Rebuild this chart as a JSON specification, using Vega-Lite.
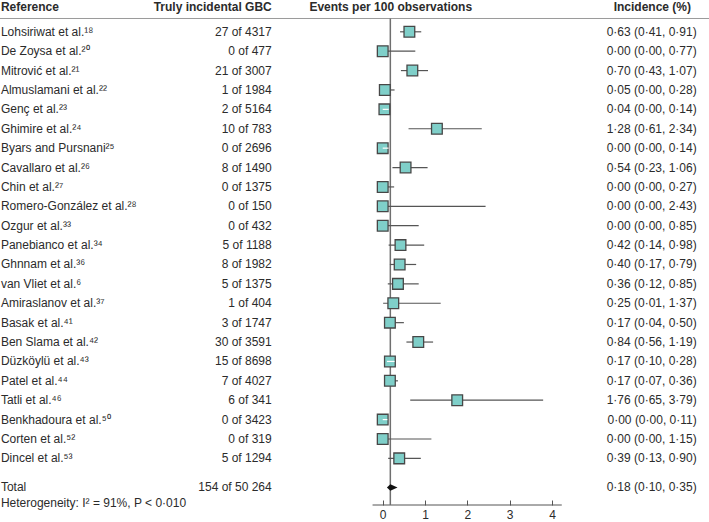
{
  "$schema": "https://vega.github.io/schema/vega-lite/v6.json",
  "width": 709,
  "height": 505,
  "autosize": "none",
  "padding": {"left": 0, "top": 0, "right": 0, "bottom": 17},
  "config": {
    "view": {"stroke": null},
    "text": {"font": "Liberation Sans", "fontSize": 12, "color": "#2b2b2b"}
  },
  "data": {
    "values": [
      {"row": 0, "kind": "study", "name": "Lohsiriwat et al.¹⁸", "events": "27 of 4317", "est": 0.63, "lo": 0.41, "hi": 0.91, "inc": "0·63 (0·41, 0·91)"},
      {"row": 1, "kind": "study", "name": "De Zoysa et al.²⁰", "events": "0 of 477", "est": 0.0, "lo": 0.0, "hi": 0.77, "inc": "0·00 (0·00, 0·77)"},
      {"row": 2, "kind": "study", "name": "Mitrović et al.²¹", "events": "21 of 3007", "est": 0.70, "lo": 0.43, "hi": 1.07, "inc": "0·70 (0·43, 1·07)"},
      {"row": 3, "kind": "study", "name": "Almuslamani et al.²²", "events": "1 of 1984", "est": 0.05, "lo": 0.0, "hi": 0.28, "inc": "0·05 (0·00, 0·28)"},
      {"row": 4, "kind": "study", "name": "Genç et al.²³", "events": "2 of 5164", "est": 0.04, "lo": 0.0, "hi": 0.14, "inc": "0·04 (0·00, 0·14)"},
      {"row": 5, "kind": "study", "name": "Ghimire et al.²⁴", "events": "10 of 783", "est": 1.28, "lo": 0.61, "hi": 2.34, "inc": "1·28 (0·61, 2·34)"},
      {"row": 6, "kind": "study", "name": "Byars and Pursnani²⁵", "events": "0 of 2696", "est": 0.0, "lo": 0.0, "hi": 0.14, "inc": "0·00 (0·00, 0·14)"},
      {"row": 7, "kind": "study", "name": "Cavallaro et al.²⁶", "events": "8 of 1490", "est": 0.54, "lo": 0.23, "hi": 1.06, "inc": "0·54 (0·23, 1·06)"},
      {"row": 8, "kind": "study", "name": "Chin et al.²⁷", "events": "0 of 1375", "est": 0.0, "lo": 0.0, "hi": 0.27, "inc": "0·00 (0·00, 0·27)"},
      {"row": 9, "kind": "study", "name": "Romero-González et al.²⁸", "events": "0 of 150", "est": 0.0, "lo": 0.0, "hi": 2.43, "inc": "0·00 (0·00, 2·43)"},
      {"row": 10, "kind": "study", "name": "Ozgur et al.³³", "events": "0 of 432", "est": 0.0, "lo": 0.0, "hi": 0.85, "inc": "0·00 (0·00, 0·85)"},
      {"row": 11, "kind": "study", "name": "Panebianco et al.³⁴", "events": "5 of 1188", "est": 0.42, "lo": 0.14, "hi": 0.98, "inc": "0·42 (0·14, 0·98)"},
      {"row": 12, "kind": "study", "name": "Ghnnam et al.³⁶", "events": "8 of 1982", "est": 0.40, "lo": 0.17, "hi": 0.79, "inc": "0·40 (0·17, 0·79)"},
      {"row": 13, "kind": "study", "name": "van Vliet et al.⁶", "events": "5 of 1375", "est": 0.36, "lo": 0.12, "hi": 0.85, "inc": "0·36 (0·12, 0·85)"},
      {"row": 14, "kind": "study", "name": "Amiraslanov et al.³⁷", "events": "1 of 404", "est": 0.25, "lo": 0.01, "hi": 1.37, "inc": "0·25 (0·01, 1·37)"},
      {"row": 15, "kind": "study", "name": "Basak et al.⁴¹", "events": "3 of 1747", "est": 0.17, "lo": 0.04, "hi": 0.50, "inc": "0·17 (0·04, 0·50)"},
      {"row": 16, "kind": "study", "name": "Ben Slama et al.⁴²", "events": "30 of 3591", "est": 0.84, "lo": 0.56, "hi": 1.19, "inc": "0·84 (0·56, 1·19)"},
      {"row": 17, "kind": "study", "name": "Düzköylü et al.⁴³", "events": "15 of 8698", "est": 0.17, "lo": 0.10, "hi": 0.28, "inc": "0·17 (0·10, 0·28)"},
      {"row": 18, "kind": "study", "name": "Patel et al.⁴⁴", "events": "7 of 4027", "est": 0.17, "lo": 0.07, "hi": 0.36, "inc": "0·17 (0·07, 0·36)"},
      {"row": 19, "kind": "study", "name": "Tatli et al.⁴⁶", "events": "6 of 341", "est": 1.76, "lo": 0.65, "hi": 3.79, "inc": "1·76 (0·65, 3·79)"},
      {"row": 20, "kind": "study", "name": "Benkhadoura et al.⁵⁰", "events": "0 of 3423", "est": 0.0, "lo": 0.0, "hi": 0.11, "inc": "0·00 (0·00, 0·11)"},
      {"row": 21, "kind": "study", "name": "Corten et al.⁵²", "events": "0 of 319", "est": 0.0, "lo": 0.0, "hi": 1.15, "inc": "0·00 (0·00, 1·15)"},
      {"row": 22, "kind": "study", "name": "Dincel et al.⁵³", "events": "5 of 1294", "est": 0.39, "lo": 0.13, "hi": 0.90, "inc": "0·39 (0·13, 0·90)"},
      {"row": 23.5, "kind": "total", "name": "Total", "events": "154 of 50 264", "est": 0.18, "lo": 0.10, "hi": 0.35, "inc": "0·18 (0·10, 0·35)"}
    ]
  },
  "layer": [
    {
      "data": {"values": [{}]},
      "mark": {"type": "rule", "color": "#9a9a9a", "strokeWidth": 1},
      "encoding": {
        "x": {"datum": -9.041, "scale": {"domain": [-9.041, 7.708], "nice": false, "zero": false},
              "axis": {"title": null, "values": [0, 1, 2, 3, 4], "format": "d", "domain": false, "grid": false,
                       "tickSize": -5, "tickColor": "#555", "tickWidth": 1, "labelPadding": 9,
                       "labelFont": "Liberation Sans", "labelFontSize": 12, "labelColor": "#2b2b2b"}},
        "x2": {"datum": 7.708},
        "y": {"datum": -0.686, "scale": {"domain": [-1.640, 24.404], "reverse": true, "nice": false, "zero": false}, "axis": null}
      }
    },
    {
      "data": {"values": [{}]},
      "mark": {"type": "rule", "color": "#555", "strokeWidth": 1},
      "encoding": {
        "x": {"datum": -0.24},
        "x2": {"datum": 4.23},
        "y": {"datum": 24.404}
      }
    },
    {
      "data": {"values": [{}]},
      "mark": {"type": "rule", "color": "#6f6f6f", "strokeWidth": 1.5},
      "encoding": {
        "x": {"datum": 0.18},
        "y": {"datum": -0.686},
        "y2": {"datum": 24.404}
      }
    },
    {
      "transform": [{"filter": "datum.kind == 'study'"}],
      "mark": {"type": "rule", "color": "#555", "strokeWidth": 1.2},
      "encoding": {
        "x": {"field": "lo", "type": "quantitative"},
        "x2": {"field": "hi"},
        "y": {"field": "row", "type": "quantitative"}
      }
    },
    {
      "transform": [{"filter": "datum.kind == 'study'"}],
      "mark": {"type": "square", "size": 115, "filled": true, "fill": "#7fcfc9", "stroke": "#474747", "strokeWidth": 1.3, "opacity": 1},
      "encoding": {
        "x": {"field": "est", "type": "quantitative"},
        "y": {"field": "row", "type": "quantitative"}
      }
    },
    {
      "transform": [{"filter": "datum.kind == 'study' && datum.hi - datum.lo < 0.2"}],
      "mark": {"type": "rule", "color": "#ffffff", "strokeWidth": 1.2},
      "encoding": {
        "x": {"field": "lo", "type": "quantitative"},
        "x2": {"field": "hi"},
        "y": {"field": "row", "type": "quantitative"}
      }
    },
    {
      "transform": [{"filter": "datum.kind == 'total'"}],
      "mark": {"type": "point", "shape": "M -0.68 0 L 0 -0.64 L 1.44 0 L 0 0.64 Z", "size": 100, "filled": true, "color": "#111", "opacity": 1},
      "encoding": {
        "x": {"field": "est", "type": "quantitative"},
        "y": {"field": "row", "type": "quantitative"}
      }
    },
    {
      "mark": {"type": "text", "align": "left", "baseline": "middle"},
      "encoding": {
        "x": {"datum": -9.02},
        "y": {"field": "row", "type": "quantitative"},
        "text": {"field": "name"}
      }
    },
    {
      "mark": {"type": "text", "align": "right", "baseline": "middle"},
      "encoding": {
        "x": {"datum": -2.622},
        "y": {"field": "row", "type": "quantitative"},
        "text": {"field": "events"}
      }
    },
    {
      "mark": {"type": "text", "align": "right", "baseline": "middle"},
      "encoding": {
        "x": {"datum": 7.417},
        "y": {"field": "row", "type": "quantitative"},
        "text": {"field": "inc"}
      }
    },
    {
      "data": {"values": [{"label": "Heterogeneity: I² = 91%, P < 0·010"}]},
      "mark": {"type": "text", "align": "left", "baseline": "middle"},
      "encoding": {
        "x": {"datum": -9.02},
        "y": {"datum": 24.32},
        "text": {"field": "label"}
      }
    },
    {
      "data": {"values": [{"label": "Reference"}]},
      "mark": {"type": "text", "align": "left", "baseline": "middle", "fontWeight": "bold"},
      "encoding": {
        "x": {"datum": -9.02},
        "y": {"datum": -1.294},
        "text": {"field": "label"}
      }
    },
    {
      "data": {"values": [{"label": "Truly incidental GBC"}]},
      "mark": {"type": "text", "align": "right", "baseline": "middle", "fontWeight": "bold"},
      "encoding": {
        "x": {"datum": -2.622},
        "y": {"datum": -1.294},
        "text": {"field": "label"}
      }
    },
    {
      "data": {"values": [{"label": "Events per 100 observations"}]},
      "mark": {"type": "text", "align": "center", "baseline": "middle", "fontWeight": "bold"},
      "encoding": {
        "x": {"datum": 0.19},
        "y": {"datum": -1.294},
        "text": {"field": "label"}
      }
    },
    {
      "data": {"values": [{"label": "Incidence (%)"}]},
      "mark": {"type": "text", "align": "right", "baseline": "middle", "fontWeight": "bold"},
      "encoding": {
        "x": {"datum": 7.283},
        "y": {"datum": -1.294},
        "text": {"field": "label"}
      }
    }
  ]
}
